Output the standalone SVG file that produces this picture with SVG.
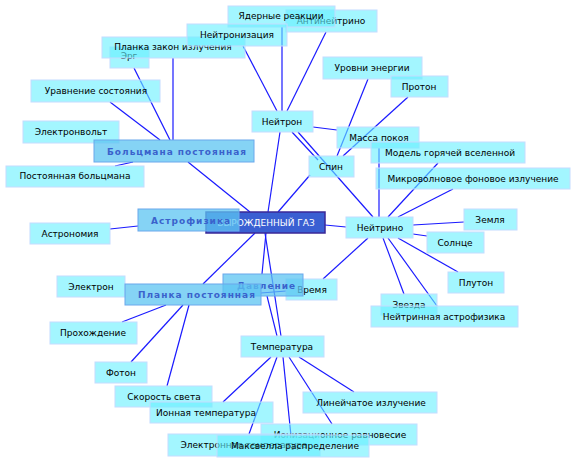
<svg xmlns="http://www.w3.org/2000/svg" width="576" height="463" viewBox="0 0 576 463">
<style>
.bg{fill:#ffffff}
.c line{stroke:#1a1aff;stroke-width:1.2}
.n rect{fill:#66f0ff;fill-opacity:0.6;stroke:#c4dcff;stroke-width:1}
.n text{font-family:"DejaVu Sans",sans-serif;font-size:9px;fill:#000;text-anchor:middle}
.h rect{fill:#5cc4f2;fill-opacity:0.75;stroke:#6aa8ec;stroke-width:1}
.h text{font-family:"DejaVu Sans",sans-serif;font-size:9px;font-weight:bold;fill:#3a62cc;letter-spacing:1px}
.m rect{fill:#3a5fd2;stroke:#3a2898;stroke-width:1.5}
.m text{font-family:"DejaVu Sans",sans-serif;font-size:9px;fill:#fff;text-anchor:middle}
</style>
<rect class="bg" x="0" y="0" width="576" height="463"/>
<g id="connectors" class="c">
<line x1="188" y1="162" x2="250" y2="212"/>
<line x1="280" y1="132" x2="268" y2="212"/>
<line x1="310" y1="175" x2="278" y2="212"/>
<line x1="325" y1="225" x2="346" y2="227"/>
<line x1="255" y1="233" x2="203" y2="284"/>
<line x1="266" y1="233" x2="262" y2="274"/>
<line x1="265" y1="233" x2="281" y2="336"/>
<line x1="267" y1="296" x2="277" y2="336"/>
<line x1="323" y1="279" x2="368" y2="238"/>
<line x1="261" y1="293" x2="286" y2="291"/>
<line x1="134" y1="68" x2="170" y2="140"/>
<line x1="173" y1="58" x2="173" y2="140"/>
<line x1="110" y1="102" x2="160" y2="140"/>
<line x1="115" y1="166" x2="133" y2="162"/>
<line x1="243" y1="46" x2="277" y2="111"/>
<line x1="282" y1="27" x2="282" y2="111"/>
<line x1="326" y1="32" x2="287" y2="111"/>
<line x1="313" y1="127" x2="337" y2="130"/>
<line x1="292" y1="132" x2="318" y2="160"/>
<line x1="298" y1="132" x2="373" y2="217"/>
<line x1="368" y1="79" x2="337" y2="156"/>
<line x1="408" y1="97" x2="343" y2="156"/>
<line x1="379" y1="148" x2="379" y2="217"/>
<line x1="438" y1="163" x2="388" y2="217"/>
<line x1="453" y1="189" x2="398" y2="217"/>
<line x1="413" y1="225" x2="464" y2="222"/>
<line x1="413" y1="234" x2="427" y2="236"/>
<line x1="398" y1="238" x2="458" y2="272"/>
<line x1="383" y1="238" x2="404" y2="294"/>
<line x1="388" y1="238" x2="437" y2="306"/>
<line x1="166" y1="305" x2="122" y2="322"/>
<line x1="183" y1="305" x2="131" y2="362"/>
<line x1="189" y1="305" x2="167" y2="386"/>
<line x1="271" y1="357" x2="223" y2="402"/>
<line x1="277" y1="357" x2="249" y2="434"/>
<line x1="283" y1="357" x2="291" y2="436"/>
<line x1="289" y1="357" x2="332" y2="424"/>
<line x1="299" y1="357" x2="354" y2="392"/>
<line x1="138" y1="226" x2="110" y2="229"/>
</g>
<g id="antineutrino" class="n"><rect x="286" y="10" width="91" height="22"/><text x="331" y="24">Антинейтрино</text></g>
<g id="nuclear" class="n"><rect x="228" y="6" width="107" height="21"/><text x="281" y="19">Ядерные реакции</text></g>
<g id="erg" class="n"><rect x="110" y="47" width="39" height="21"/><text x="129" y="59">Эрг</text></g>
<g id="planck_law" class="n"><rect x="102" y="37" width="143" height="21"/><text x="173" y="50">Планка закон излучения</text></g>
<g id="neutronization" class="n"><rect x="187" y="24" width="100" height="22"/><text x="237" y="38">Нейтронизация</text></g>
<g id="state_eq" class="n"><rect x="31" y="80" width="129" height="22"/><text x="96" y="94">Уравнение состояния</text></g>
<g id="ev" class="n"><rect x="23" y="121" width="96" height="22"/><text x="71" y="135">Электронвольт</text></g>
<g id="boltzmann_const" class="n"><rect x="6" y="166" width="138" height="21"/><text x="75" y="179">Постоянная больцмана</text></g>
<g id="energy_levels" class="n"><rect x="323" y="57" width="99" height="22"/><text x="372" y="71">Уровни энергии</text></g>
<g id="proton" class="n"><rect x="391" y="76" width="57" height="21"/><text x="419" y="90">Протон</text></g>
<g id="neutron" class="n"><rect x="252" y="111" width="61" height="21"/><text x="282" y="125">Нейтрон</text></g>
<g id="rest_mass" class="n"><rect x="337" y="127" width="82" height="21"/><text x="379" y="141">Масса покоя</text></g>
<g id="hot_universe" class="n"><rect x="371" y="142" width="154" height="21"/><text x="450" y="156">Модель горячей вселенной</text></g>
<g id="spin" class="n"><rect x="309" y="156" width="45" height="21"/><text x="331" y="170">Спин</text></g>
<g id="cmb" class="n"><rect x="376" y="168" width="194" height="21"/><text x="473" y="182">Микроволновое фоновое излучение</text></g>
<g id="neutrino" class="n"><rect x="346" y="217" width="67" height="21"/><text x="380" y="231">Нейтрино</text></g>
<g id="earth" class="n"><rect x="464" y="209" width="53" height="21"/><text x="490" y="223">Земля</text></g>
<g id="sun" class="n"><rect x="427" y="232" width="57" height="21"/><text x="455" y="246">Солнце</text></g>
<g id="pluto" class="n"><rect x="448" y="272" width="56" height="21"/><text x="476" y="286">Плутон</text></g>
<g id="star" class="n"><rect x="381" y="294" width="56" height="21"/><text x="409" y="308">Звезда</text></g>
<g id="nu_astro" class="n"><rect x="371" y="306" width="147" height="21"/><text x="444" y="320">Нейтринная астрофизика</text></g>
<g id="astronomy" class="n"><rect x="30" y="223" width="80" height="21"/><text x="70" y="237">Астрономия</text></g>
<g id="electron" class="n"><rect x="57" y="276" width="68" height="21"/><text x="91" y="290">Электрон</text></g>
<g id="passage" class="n"><rect x="50" y="322" width="87" height="22"/><text x="93" y="336">Прохождение</text></g>
<g id="photon" class="n"><rect x="95" y="362" width="52" height="21"/><text x="121" y="376">Фотон</text></g>
<g id="light_speed" class="n"><rect x="115" y="386" width="97" height="21"/><text x="164" y="400">Скорость света</text></g>
<g id="ion_temp" class="n"><rect x="150" y="402" width="123" height="21"/><text x="206" y="416">Ионная температура</text></g>
<g id="temperature" class="n"><rect x="241" y="336" width="83" height="21"/><text x="282" y="350">Температура</text></g>
<g id="line_emission" class="n"><rect x="303" y="392" width="134" height="21"/><text x="371" y="406">Линейчатое излучение</text></g>
<g id="ionization_eq" class="n"><rect x="261" y="424" width="156" height="21"/><text x="340" y="438">Ионизационное равновесие</text></g>
<g id="electron_temp" class="n"><rect x="168" y="434" width="152" height="22"/><text x="244" y="448">Электронная температура</text></g>
<g id="maxwell" class="n"><rect x="217" y="435" width="152" height="22"/><text x="295" y="449">Максвелла распределение</text></g>
<g id="time" class="n"><rect x="286" y="279" width="51" height="21"/><text x="312" y="293">Время</text></g>
<g id="degenerate_gas" class="m"><rect x="206" y="212" width="119" height="21"/><text x="266" y="226">ВЫРОЖДЕННЫЙ ГАЗ</text></g>
<g id="boltzmann" class="h"><rect x="94" y="140" width="160" height="22"/><text x="107" y="155">Больцмана постоянная</text></g>
<g id="astrophysics" class="h"><rect x="138" y="209" width="101" height="22"/><text x="151" y="224">Астрофизика</text></g>
<g id="pressure" class="h"><rect x="223" y="274" width="80" height="22"/><text x="237" y="289">Давление</text></g>
<g id="planck_const" class="h"><rect x="125" y="284" width="136" height="21"/><text x="138" y="298">Планка постоянная</text></g>
</svg>
